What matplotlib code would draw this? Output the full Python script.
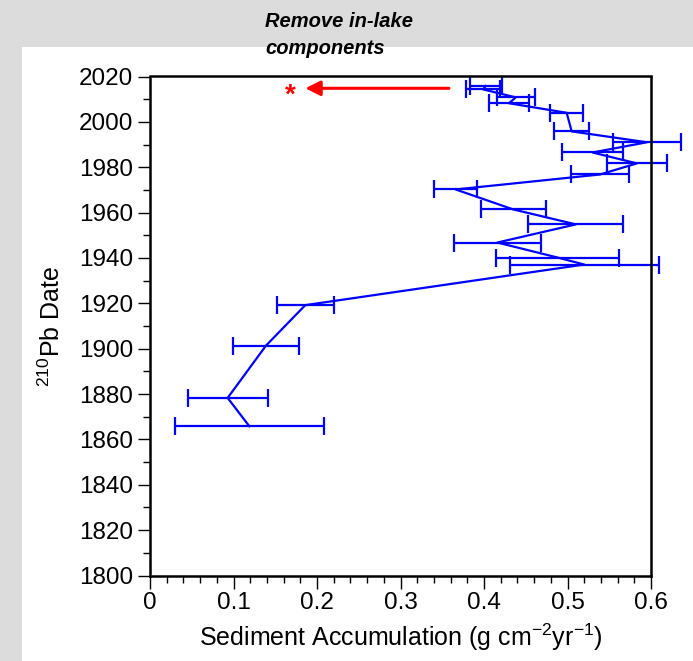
import matplotlib
matplotlib.use("Agg")
import matplotlib.pyplot as plt
from matplotlib.patches import Rectangle
from matplotlib.ticker import MultipleLocator, FuncFormatter

plt.rcParams['font.family'] = ['Liberation Sans', 'DejaVu Sans']
plt.rcParams['mathtext.default'] = 'regular'

# 210Pb dates (top to bottom) and sediment accumulation with +/- error
dates = [2015.8, 2014.3, 2010.8, 2008.2, 2004.0, 1995.8, 1991.0, 1986.5, 1981.7, 1976.8,
         1970.2, 1961.4, 1954.8, 1946.8, 1940.2, 1937.1, 1919.2, 1901.4, 1878.3, 1865.8]
accum = [0.402, 0.399, 0.438, 0.430, 0.499, 0.505, 0.595, 0.530, 0.583, 0.539,
         0.366, 0.435, 0.510, 0.416, 0.488, 0.520, 0.186, 0.139, 0.093, 0.119]
err = [0.019, 0.020, 0.023, 0.024, 0.020, 0.021, 0.041, 0.037, 0.036, 0.035,
       0.026, 0.039, 0.057, 0.052, 0.074, 0.089, 0.034, 0.040, 0.048, 0.089]

x_ticks = [0, 0.1, 0.2, 0.3, 0.4, 0.5, 0.6]
y_ticks = list(range(1800, 2021, 20))

# arrow pointing to the removed section
arrow_date = 2014.8
arrow_from = 0.358
arrow_to = 0.186
star_x = 0.168

W, H = 693, 661
fig = plt.figure(figsize=(W / 100, H / 100), dpi=100)
fig.patch.set_facecolor('#dcdcdc')
fig.patches.append(Rectangle((22 / W, 0), 1 - 22 / W, 1 - 47 / H, transform=fig.transFigure,
                             facecolor='white', edgecolor='none', zorder=-10))

ax = fig.add_axes([150 / W, 1 - 575.5 / H, 501 / W, 499 / H])
ax.set_zorder(5)

ax.errorbar(accum, dates, xerr=err, color='blue', lw=1.6, elinewidth=1.6,
            capsize=6.5, capthick=1.6, clip_on=False)

ax.annotate('', xy=(arrow_to, arrow_date), xytext=(arrow_from, arrow_date),
            arrowprops=dict(arrowstyle='-|>,head_length=0.9,head_width=0.45',
                            color='red', lw=2.2, shrinkA=0, shrinkB=0))
ax.annotate('*', xy=(star_x, arrow_date), xytext=(0, -5), textcoords='offset points',
            color='red', fontsize=20, fontweight='bold', ha='center', va='center')

ax.set_xlim(0, 0.6)
ax.set_ylim(1800, 2020)
ax.set_xticks(x_ticks)
ax.set_yticks(y_ticks)
ax.xaxis.set_minor_locator(MultipleLocator(0.02))
ax.yaxis.set_minor_locator(MultipleLocator(10))
ax.xaxis.set_major_formatter(FuncFormatter(lambda v, p: '0' if v == 0 else '%g' % v))
ax.tick_params(which='major', direction='out', length=9, width=1, labelsize=17.5, pad=3)
ax.tick_params(which='minor', direction='out', length=5, width=1)
for s in ax.spines.values():
    s.set_linewidth(1.8)

ax.set_xlabel('Sediment Accumulation (g cm$^{-2}$yr$^{-1}$)', fontsize=18, labelpad=5)
ax.set_ylabel('$^{210}$Pb Date', fontsize=18, labelpad=10)

fig.text(265 / W, 1 - 27 / H, 'Remove in-lake', fontsize=14.5, fontweight='bold',
         fontstyle='italic', ha='left', va='baseline', zorder=10)
fig.text(265 / W, 1 - 54 / H, 'components', fontsize=14.5, fontweight='bold',
         fontstyle='italic', ha='left', va='baseline', zorder=10)

fig.savefig('out.png', dpi=100)
